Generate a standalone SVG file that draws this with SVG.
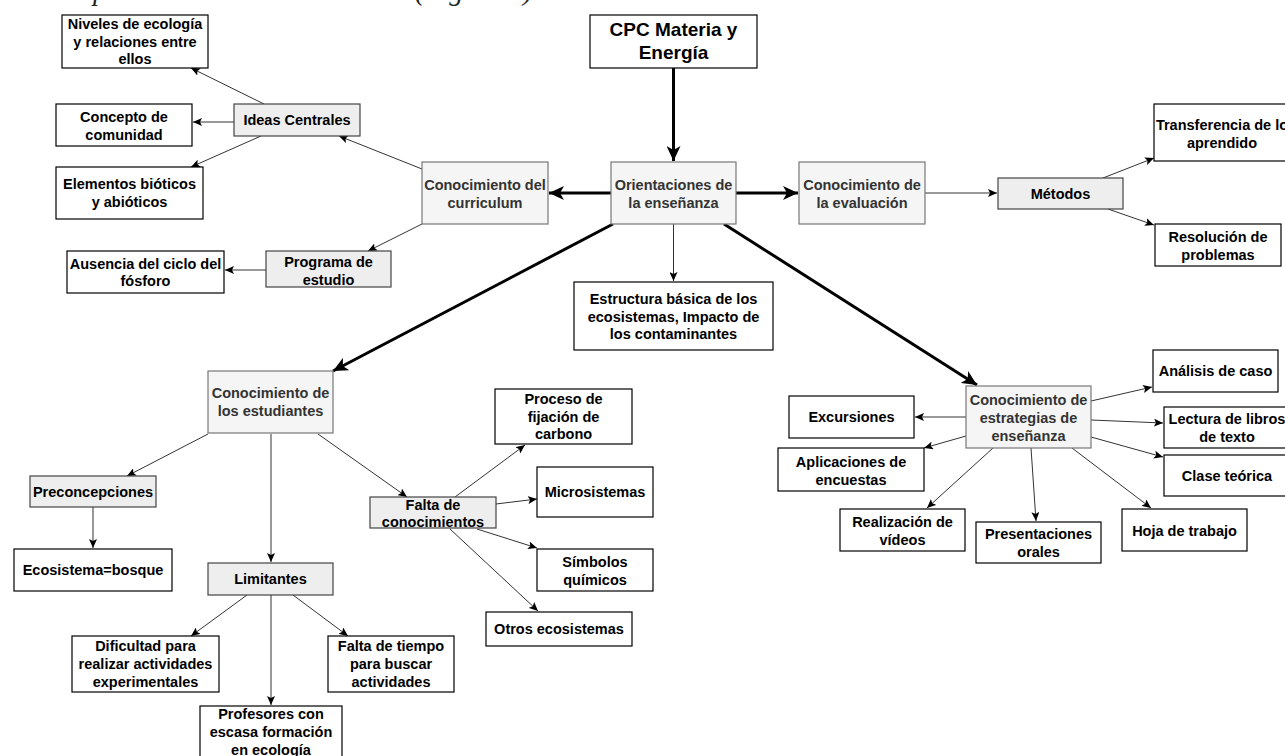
<svg xmlns="http://www.w3.org/2000/svg" width="1285" height="756" viewBox="0 0 1285 756">
<style>
text{font-family:"Liberation Sans",Arial,sans-serif;font-weight:bold;font-size:14.5px;text-anchor:middle;fill:#000}
.n rect{fill:#fff;stroke:#000;stroke-width:1.2}
.g rect{fill:#eeeeee;stroke:#444;stroke-width:1.2}
.k rect{fill:#f5f5f5;stroke:#777;stroke-width:1.2}
.k text{fill:#333}
.cap{font-family:"Liberation Serif","Times New Roman",serif;font-style:italic;font-weight:normal;font-size:28px;text-anchor:start;fill:#222}
.t{stroke:#333;stroke-width:1;fill:none;marker-end:url(#a)}
.b{stroke:#000;stroke-width:3;fill:none;marker-end:url(#A)}
</style>
<defs>
<marker id="a" markerUnits="userSpaceOnUse" markerWidth="10" markerHeight="8" refX="9" refY="4" orient="auto" viewBox="0 0 10 8"><path d="M0,0 L9,4 L0,8 L2,4 z" fill="#000"/></marker>
<marker id="A" markerUnits="userSpaceOnUse" markerWidth="16" markerHeight="14" refX="15" refY="7" orient="auto" viewBox="0 0 16 14"><path d="M0,0 L15,7 L0,14 L4,7 z" fill="#000"/></marker>
</defs>
<rect width="1285" height="756" fill="#fff"/>
<text class="cap" x="93" y="0">p</text>
<text class="cap" x="415" y="0">(Figura 3)</text>

<g id="connectors">
<line class="b" x1="673.5" y1="68" x2="673.5" y2="161"/>
<line class="b" x1="611" y1="193" x2="549" y2="193"/>
<line class="b" x1="736" y1="193" x2="798" y2="193"/>
<line class="t" x1="673.5" y1="224" x2="673.5" y2="281"/>
<line class="b" x1="613" y1="224" x2="333" y2="371"/>
<line class="b" x1="724" y1="224" x2="977" y2="385"/>
<line class="t" x1="422" y1="169" x2="339" y2="136"/>
<line class="t" x1="422" y1="224" x2="368" y2="251"/>
<line class="t" x1="264" y1="104" x2="191" y2="68"/>
<line class="t" x1="234" y1="122" x2="193" y2="122"/>
<line class="t" x1="261" y1="136" x2="191" y2="167"/>
<line class="t" x1="266" y1="270" x2="225" y2="270"/>
<line class="t" x1="925" y1="193" x2="997" y2="193"/>
<line class="t" x1="1103" y1="178" x2="1154" y2="158"/>
<line class="t" x1="1108" y1="209" x2="1154" y2="225"/>
<line class="t" x1="208" y1="434" x2="127" y2="476"/>
<line class="t" x1="271" y1="434" x2="271" y2="562"/>
<line class="t" x1="318" y1="434" x2="407" y2="497"/>
<line class="t" x1="93" y1="507" x2="93" y2="548"/>
<line class="t" x1="247" y1="595" x2="191" y2="636"/>
<line class="t" x1="293" y1="595" x2="348" y2="636"/>
<line class="t" x1="271" y1="595" x2="271" y2="705"/>
<line class="t" x1="455" y1="497" x2="525" y2="445"/>
<line class="t" x1="496" y1="504" x2="537" y2="499"/>
<line class="t" x1="477" y1="529" x2="537" y2="548"/>
<line class="t" x1="450" y1="529" x2="538" y2="611"/>
<line class="t" x1="966" y1="417" x2="915" y2="417"/>
<line class="t" x1="966" y1="436" x2="924" y2="448"/>
<line class="t" x1="993" y1="448" x2="927" y2="508"/>
<line class="t" x1="1031" y1="448" x2="1036" y2="521"/>
<line class="t" x1="1072" y1="448" x2="1151" y2="508"/>
<line class="t" x1="1091" y1="401" x2="1152" y2="387"/>
<line class="t" x1="1091" y1="420" x2="1163" y2="423"/>
<line class="t" x1="1091" y1="437" x2="1163" y2="457"/>
</g>

<g id="cpc" class="n"><rect x="590" y="15" width="167" height="53"/><text style="font-size:19px" x="673.5" y="36">CPC Materia y<tspan x="673.5" dy="23">Energía</tspan></text></g>
<g id="orientaciones" class="k"><rect x="611" y="162" width="125" height="62"/><text x="673.5" y="190">Orientaciones de<tspan x="673.5" dy="17.5">la enseñanza</tspan></text></g>
<g id="curriculum" class="k"><rect x="422" y="162" width="126" height="62"/><text x="485" y="190">Conocimiento del<tspan x="485" dy="17.5">curriculum</tspan></text></g>
<g id="evaluacion" class="k"><rect x="799" y="162" width="126" height="62"/><text x="862" y="190">Conocimiento de<tspan x="862" dy="17.5">la evaluación</tspan></text></g>
<g id="estructura" class="n"><rect x="574" y="282" width="199" height="68"/><text x="673.5" y="304">Estructura básica de los<tspan x="673.5" dy="17.5">ecosistemas, Impacto de</tspan><tspan x="673.5" dy="17.5">los contaminantes</tspan></text></g>
<g id="ideas" class="g"><rect x="234" y="104" width="126" height="32"/><text x="297" y="125">Ideas Centrales</text></g>
<g id="niveles" class="n"><rect x="62" y="15" width="146" height="53"/><text x="135" y="29">Niveles de ecología<tspan x="135" dy="17.5">y relaciones entre</tspan><tspan x="135" dy="17.5">ellos</tspan></text></g>
<g id="concepto" class="n"><rect x="56" y="104" width="136" height="42"/><text x="124" y="122">Concepto de<tspan x="124" dy="17.5">comunidad</tspan></text></g>
<g id="elementos" class="n"><rect x="56" y="167" width="147" height="52"/><text x="129.5" y="189">Elementos bióticos<tspan x="129.5" dy="17.5">y abióticos</tspan></text></g>
<g id="programa" class="g"><rect x="266" y="251" width="125" height="36"/><text x="328.5" y="267">Programa de<tspan x="328.5" dy="17.5">estudio</tspan></text></g>
<g id="ausencia" class="n"><rect x="67" y="251" width="157" height="42"/><text x="145.5" y="268.5">Ausencia del ciclo del<tspan x="145.5" dy="17.5">fósforo</tspan></text></g>
<g id="metodos" class="g"><rect x="998" y="178" width="125" height="31"/><text x="1060.5" y="199">Métodos</text></g>
<g id="transferencia" class="n"><rect x="1154" y="104" width="136" height="57"/><text x="1222" y="130">Transferencia de lo<tspan x="1222" dy="17.5">aprendido</tspan></text></g>
<g id="resolucion" class="n"><rect x="1155" y="224" width="126" height="42"/><text x="1218" y="242">Resolución de<tspan x="1218" dy="17.5">problemas</tspan></text></g>
<g id="estudiantes" class="k"><rect x="208" y="371" width="125" height="62"/><text x="270.5" y="398">Conocimiento de<tspan x="270.5" dy="17.5">los estudiantes</tspan></text></g>
<g id="preconcepciones" class="g"><rect x="30" y="476" width="126" height="31"/><text x="93" y="497">Preconcepciones</text></g>
<g id="ecosistema" class="n"><rect x="14" y="549" width="158" height="42"/><text x="93" y="575">Ecosistema=bosque</text></g>
<g id="limitantes" class="g"><rect x="208" y="563" width="125" height="32"/><text x="270.5" y="584">Limitantes</text></g>
<g id="dificultad" class="n"><rect x="72" y="636" width="147" height="56"/><text x="145.5" y="651">Dificultad para<tspan x="145.5" dy="18">realizar actividades</tspan><tspan x="145.5" dy="18">experimentales</tspan></text></g>
<g id="tiempo" class="n"><rect x="328" y="636" width="126" height="56"/><text x="391" y="651">Falta de tiempo<tspan x="391" dy="18">para buscar</tspan><tspan x="391" dy="18">actividades</tspan></text></g>
<g id="profesores" class="n"><rect x="200" y="706" width="142" height="62"/><text x="271" y="719">Profesores con<tspan x="271" dy="18">escasa formación</tspan><tspan x="271" dy="18">en ecología</tspan></text></g>
<g id="falta" class="g"><rect x="370" y="497" width="126" height="31"/><text x="433" y="510">Falta de<tspan x="433" dy="17">conocimientos</tspan></text></g>
<g id="proceso" class="n"><rect x="495" y="389" width="137" height="55"/><text x="563.5" y="404">Proceso de<tspan x="563.5" dy="17.5">fijación de</tspan><tspan x="563.5" dy="17.5">carbono</tspan></text></g>
<g id="microsistemas" class="n"><rect x="537" y="467" width="116" height="50"/><text x="595" y="497">Microsistemas</text></g>
<g id="simbolos" class="n"><rect x="537" y="549" width="116" height="42"/><text x="595" y="567">Símbolos<tspan x="595" dy="17.5">químicos</tspan></text></g>
<g id="otros" class="n"><rect x="486" y="612" width="146" height="34"/><text x="559" y="634">Otros ecosistemas</text></g>
<g id="estrategias" class="k"><rect x="966" y="386" width="125" height="62"/><text x="1028.5" y="405">Conocimiento de<tspan x="1028.5" dy="18">estrategias de</tspan><tspan x="1028.5" dy="18">enseñanza</tspan></text></g>
<g id="excursiones" class="n"><rect x="789" y="396" width="125" height="42"/><text x="851.5" y="422">Excursiones</text></g>
<g id="aplicaciones" class="n"><rect x="778" y="448" width="146" height="43"/><text x="851" y="467">Aplicaciones de<tspan x="851" dy="17.5">encuestas</tspan></text></g>
<g id="realizacion" class="n"><rect x="840" y="509" width="125" height="42"/><text x="902.5" y="527">Realización de<tspan x="902.5" dy="17.5">vídeos</tspan></text></g>
<g id="presentaciones" class="n"><rect x="976" y="522" width="125" height="41"/><text x="1038.5" y="539">Presentaciones<tspan x="1038.5" dy="17.5">orales</tspan></text></g>
<g id="hoja" class="n"><rect x="1122" y="509" width="125" height="42"/><text x="1184.5" y="536">Hoja de trabajo</text></g>
<g id="analisis" class="n"><rect x="1153" y="350" width="125" height="42"/><text x="1215.5" y="376">Análisis de caso</text></g>
<g id="lectura" class="n"><rect x="1164" y="407" width="126" height="41"/><text x="1227" y="424">Lectura de libros<tspan x="1227" dy="17.5">de texto</tspan></text></g>
<g id="clase" class="n"><rect x="1164" y="455" width="126" height="41"/><text x="1227" y="481">Clase teórica</text></g>
</svg>
